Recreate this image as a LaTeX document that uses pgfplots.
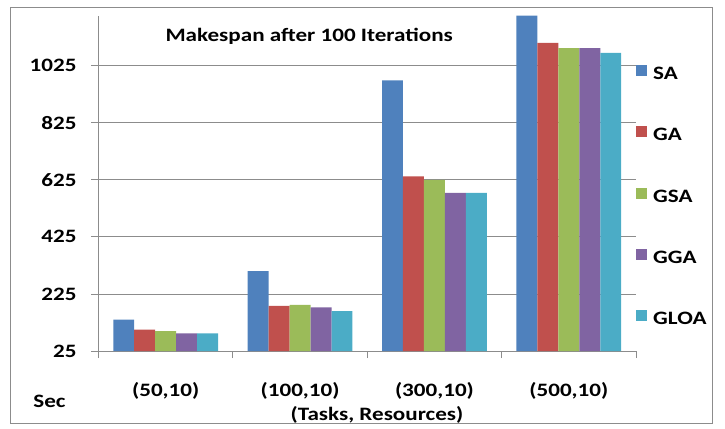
\documentclass[border=0pt]{standalone}
\usepackage{pgfplots}
\pgfplotsset{compat=1.18}
\usepackage{fontspec}
\setmainfont[FakeStretch=1.22]{Carlito}

\definecolor{cSA}{HTML}{4F81BD}
\definecolor{cGA}{HTML}{C0504D}
\definecolor{cGSA}{HTML}{9BBB59}
\definecolor{cGGA}{HTML}{8064A2}
\definecolor{cGLOA}{HTML}{4BACC6}
\definecolor{frame}{HTML}{8C8C8C}

\begin{document}
\fontsize{19}{22}\selectfont\bfseries
\begin{tikzpicture}
\begin{axis}[
    scale only axis,
    width=537.5bp, height=335.3bp,
    ybar=0pt, bar width=0.156,
    xmin=-0.5, xmax=3.5,
    ymin=25, ymax=1200,
    ytick={25,225,425,625,825,1025},
    xtick={-0.5,0.5,1.5,2.5,3.5},
    xticklabels={},
    extra x ticks={0,1,2,3},
    extra x tick labels={(50,10),(100,10),(300,10),(500,10)},
    extra x tick style={major tick length=0pt,
        tick label style={anchor=base, yshift=-45bp}},
    axis x line*=bottom, axis y line*=left,
    axis line style={frame, line width=0.8bp},
    tick style={frame, line width=0.8bp},
    tick align=outside, major tick length=7bp,
    ymajorgrids, grid style={frame, line width=0.8bp},
    /pgf/number format/assume math mode=true,
    /pgf/number format/1000 sep={},
    ticklabel style={font=\fontsize{19}{22}\selectfont\bfseries},
    yticklabel style={inner sep=0pt, xshift=-14.8bp},
    legend style={at={(1,0.8535)}, anchor=north west, draw=none, fill=none,
        inner sep=0pt, row sep=46.8bp, column sep=6bp,
        nodes={inner sep=0pt, text height=13bp, text depth=0bp,
               font=\fontsize{19}{22}\selectfont\bfseries}},
    legend image code/.code={\fill (0bp,-3bp) rectangle (11bp,8bp);},
    legend cell align=left,
]
\addplot[fill=cSA, draw=none] coordinates {(0,135) (1,305) (2,973) (3,1200)};
\addplot[fill=cGA, draw=none] coordinates {(0,100) (1,183) (2,637) (3,1105)};
\addplot[fill=cGSA, draw=none] coordinates {(0,95) (1,187) (2,625) (3,1086)};
\addplot[fill=cGGA, draw=none] coordinates {(0,87) (1,178) (2,579) (3,1086)};
\addplot[fill=cGLOA, draw=none] coordinates {(0,87) (1,165) (2,579) (3,1070)};
\legend{SA,GA,GSA,GGA,GLOA}
\coordinate (sw) at (rel axis cs:0,0);
\coordinate (ne) at (rel axis cs:1,1);
\node at (rel axis cs:0.392,0.937) {Makespan after 100 Iterations};
\end{axis}
\node[anchor=base, inner sep=0pt] at ([shift={(-49bp,-56bp)}]sw) {Sec};
\node[anchor=base, inner sep=0pt] at ([shift={(278.5bp,-69bp)}]sw) {(Tasks, Resources)};
\draw[frame, line width=1bp] ([shift={(-87.5bp,-72bp)}]sw) rectangle ([shift={(76bp,7.7bp)}]ne);
\pgfresetboundingbox
\path ([shift={(-98.5bp,-78bp)}]sw) rectangle ([shift={(89bp,15.7bp)}]ne);
\end{tikzpicture}
\end{document}
